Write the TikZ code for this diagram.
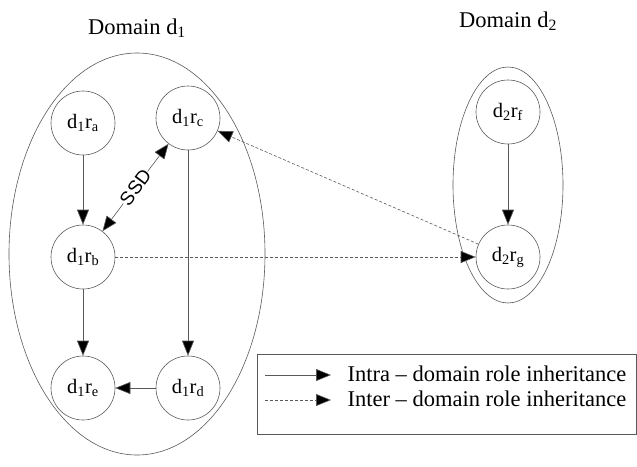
\documentclass[tikz,border=0pt]{standalone}
\usepackage{fontspec}
\setmainfont{Liberation Serif}
\newfontfamily\ssdfont{Liberation Sans}
\usetikzlibrary{arrows.meta}
\begin{document}
\begin{tikzpicture}[x=1pt,y=-1pt,
  line width=0.6pt,
  role/.style={circle,draw=black!65,minimum size=64pt,inner sep=0pt,font=\fontsize{20.5}{20}\selectfont},
  dom/.style={draw=black!65},
  tip/.style={Triangle[length=15pt,width=12pt,fill=black]},
  intra/.style={draw=black!65,-{Triangle[length=15pt,width=12pt,fill=black]}},
  inter/.style={draw=black!65,dash pattern=on 3pt off 2pt,-{Triangle[length=15pt,width=12pt,fill=black]}},
  lbl/.style={font=\fontsize{22.5}{22}\selectfont}]
\useasboundingbox (0,0) rectangle (637,466);
% domains
\draw[dom] (137,254) ellipse [x radius=128, y radius=201];
\draw[dom] (508,185) ellipse [x radius=55, y radius=118];
\node[lbl] (t1) at (137,28) {Domain d\textsubscript{1}};
\node[lbl] (t2) at (508,21) {Domain d\textsubscript{2}};
% roles
\node[role] (ra) at (83,123) {d\textsubscript{1}r\textsubscript{a}};
\node[role] (rc) at (188,118) {d\textsubscript{1}r\textsubscript{c}};
\node[role] (rb) at (83,257) {d\textsubscript{1}r\textsubscript{b}};
\node[role] (re) at (83,388) {d\textsubscript{1}r\textsubscript{e}};
\node[role] (rd) at (188,388) {d\textsubscript{1}r\textsubscript{d}};
\node[role] (rf) at (508,112) {d\textsubscript{2}r\textsubscript{f}};
\node[role] (rg) at (508,257) {d\textsubscript{2}r\textsubscript{g}};
% edges
\draw[intra] (ra) -- (rb);
\draw[intra] (rb) -- (re);
\draw[intra] (rc) -- (rd);
\draw[intra] (rd) -- (re);
\draw[intra] (rf) -- (rg);
\draw[draw=black!65,{Triangle[length=15pt,width=12pt,fill=black]}-{Triangle[length=15pt,width=12pt,fill=black]}] (rb) -- node[sloped,fill=white,inner sep=0.5pt,font=\ssdfont\fontsize{19}{19}\selectfont] (ssd) {SSD} (rc);
\draw[inter] (rb) -- (rg);
\draw[inter] (rg) -- (rc);
% legend
\node[draw=black!65,minimum width=379pt,minimum height=80pt,inner sep=0pt,anchor=north west] (leg) at (257,354) {};
\coordinate (l1a) at (265,375);
\coordinate (l1b) at (331,375);
\coordinate (l2a) at (265,400);
\coordinate (l2b) at (331,400);
\draw[intra] (l1a) -- (l1b);
\draw[inter] (l2a) -- (l2b);
\node[lbl,anchor=west] (lt1) at (344,374) {Intra -- domain role inheritance};
\node[lbl,anchor=west] (lt2) at (344,399) {Inter -- domain role inheritance};
\end{tikzpicture}
\end{document}
